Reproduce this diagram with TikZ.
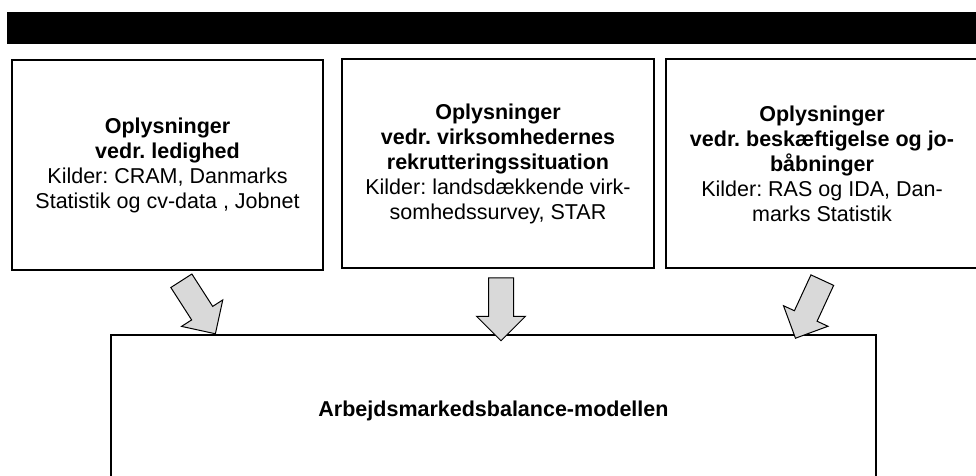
\documentclass[tikz,border=0pt]{standalone}
\usepackage{fontspec}
\setmainfont{Liberation Sans}
\usetikzlibrary{shapes.arrows,calc}
\frenchspacing

\begin{document}
\begin{tikzpicture}[x=1pt,y=-1pt]

      \useasboundingbox (0,0) rectangle (976,475);

      \fill (7,12) rectangle (985,44);

      \begin{scope}[every node/.style={rectangle,draw,line width=2.5pt,
          align=center,inner sep=0pt,
          font=\fontsize{21.5pt}{25pt}\selectfont}]
        \node[minimum width=311pt,minimum height=210pt] (ledig) at (167.5,165)
          {\textbf{Oplysninger}\\ \textbf{vedr. ledighed}\\
           Kilder: CRAM, Danmarks\\ Statistik og cv-data , Jobnet};
        \node[minimum width=312pt,minimum height=209pt] (rekrut) at (498,163.5)
          {\textbf{Oplysninger}\\ \textbf{vedr. virksomhedernes}\\
           \textbf{rekrutteringssituation}\\
           Kilder: landsdækkende virk-\\ somhedssurvey, STAR};
        \node[minimum width=312pt,minimum height=209pt] (beskaef) at (822,163.5)
          {\textbf{Oplysninger}\\ \textbf{vedr. beskæftigelse og jo-}\\
           \textbf{båbninger}\\
           Kilder: RAS og IDA, Dan-\\ marks Statistik};
        \node[minimum width=765pt,minimum height=152pt] (model) at (493.5,411)
          {\textbf{Arbejdsmarkedsbalance-modellen}};
      \end{scope}

      \begin{scope}[every node/.style={single arrow,draw,line width=1pt,
          fill=black!15,inner xsep=0pt,inner ysep=12pt,minimum width=48pt,
          single arrow head extend=12pt}]
        \node[minimum height=63pt,rotate=-57.3] (pil1) at (195,302) {};
        \node[minimum height=63pt,rotate=-90] (pil2) at (501,303) {};
        \node[minimum height=64pt,rotate=-114.8] (pil3) at (811.5,303.5) {};
      \end{scope}

    \end{tikzpicture}
\end{document}
